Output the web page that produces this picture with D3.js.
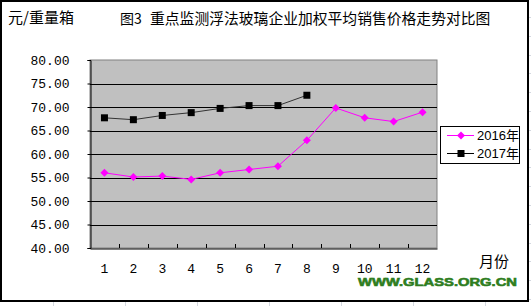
<!DOCTYPE html>
<html>
<head>
<meta charset="utf-8">
<script src="https://cdn.jsdelivr.net/npm/d3@7"></script>
<style>
  html, body { margin: 0; padding: 0; background: #fff; }
  svg { display: block; }
</style>
</head>
<body>
<div id="chart"></div>
<script>
// months on the x axis
const months = ["1", "2", "3", "4", "5", "6", "7", "8", "9", "10", "11", "12"];
// price series (元/重量箱)
const price2016 = [56.0, 55.1, 55.3, 54.6, 56.0, 56.7, 57.4, 62.9, 69.8, 67.7, 66.9, 68.9];
const price2017 = [67.7, 67.3, 68.2, 68.8, 69.7, 70.3, 70.3, 72.5];
const yTicks = [40, 45, 50, 55, 60, 65, 70, 75, 80];
const seriesNames = ["2016年", "2017年"];

const W = 531, H = 306;
const plot = { left: 90, top: 60, right: 437, bottom: 248 };

const svg = d3
  .select("#chart")
  .append("svg")
  .attr("width", W)
  .attr("height", H);

// faint spreadsheet grid showing outside the chart frame
const gridCols = [53, 125, 197, 269, 341, 413, 485];
svg.append("g")
  .selectAll("line")
  .data(gridCols)
  .join("line")
  .attr("x1", (d) => d + 0.5).attr("x2", (d) => d + 0.5)
  .attr("y1", 302).attr("y2", H)
  .attr("stroke", "#d4d8e0");
svg.append("g")
  .selectAll("line")
  .data(d3.range(17, H, 18.8))
  .join("line")
  .attr("x1", 529).attr("x2", W)
  .attr("y1", (d) => Math.round(d) + 0.5).attr("y2", (d) => Math.round(d) + 0.5)
  .attr("stroke", "#d4d8e0");

// chart frame
svg.append("rect")
  .attr("x", 1).attr("y", 1)
  .attr("width", 527).attr("height", 300)
  .attr("fill", "#fff")
  .attr("stroke", "#000")
  .attr("stroke-width", 2);

const x = d3.scaleBand()
  .domain(months)
  .range([plot.left, plot.right])
  .padding(0);

const y = d3.scaleLinear()
  .domain([40, 80])
  .range([plot.bottom, plot.top]);

const cx = (i) => x(months[i]) + x.bandwidth() / 2;

// plot background
svg.append("rect")
  .attr("x", plot.left).attr("y", plot.top)
  .attr("width", plot.right - plot.left)
  .attr("height", plot.bottom - plot.top)
  .attr("fill", "#c0c0c0")
  .attr("stroke", "#808080");

// horizontal gridlines
svg.append("g")
  .selectAll("line")
  .data(yTicks.filter((d) => d > 40 && d < 80))
  .join("line")
  .attr("x1", plot.left).attr("x2", plot.right)
  .attr("y1", (d) => Math.round(y(d)) + 0.5)
  .attr("y2", (d) => Math.round(y(d)) + 0.5)
  .attr("stroke", "#000");

// y axis
const yAxis = svg.append("g")
  .attr("transform", `translate(${plot.left + 0.5},0)`)
  .call(d3.axisLeft(y).tickValues(yTicks).tickSize(3).tickPadding(18)
    .tickFormat((d) => d.toFixed(2)));
yAxis.select(".domain").attr("stroke", "#000");
yAxis.selectAll("text")
  .attr("fill", "#000")
  .style("font-family", "'Liberation Mono', monospace")
  .style("font-size", "13px");

// x axis
const xAxis = svg.append("g")
  .attr("transform", `translate(0,${plot.bottom + 0.5})`)
  .call(d3.axisBottom(x).tickSize(0).tickPadding(15));
xAxis.select(".domain").attr("stroke", "#000");
xAxis.selectAll("text")
  .attr("fill", "#000")
  .style("font-family", "'Liberation Mono', monospace")
  .style("font-size", "13px");

// inward tick marks between months
svg.append("g")
  .selectAll("line")
  .data(months.slice(1))
  .join("line")
  .attr("x1", (d) => Math.round(x(d)) + 0.5)
  .attr("x2", (d) => Math.round(x(d)) + 0.5)
  .attr("y1", plot.bottom)
  .attr("y2", plot.bottom - 4)
  .attr("stroke", "#000");

// lines
const line = d3.line()
  .x((d, i) => cx(i))
  .y((d) => y(d));

svg.append("path")
  .attr("d", line(price2016))
  .attr("fill", "none")
  .attr("stroke", "#ff00ff")
  .attr("stroke-width", 1);

svg.append("path")
  .attr("d", line(price2017))
  .attr("fill", "none")
  .attr("stroke", "#333")
  .attr("stroke-width", 1);

const diamond = (px, py, r) =>
  `M${px},${py - r}L${px + r},${py}L${px},${py + r}L${px - r},${py}Z`;

svg.append("g")
  .selectAll("path")
  .data(price2016)
  .join("path")
  .attr("d", (d, i) => diamond(cx(i), y(d), 4))
  .attr("fill", "#ff00ff");

svg.append("g")
  .selectAll("rect")
  .data(price2017)
  .join("rect")
  .attr("x", (d, i) => cx(i) - 3.5)
  .attr("y", (d) => y(d) - 3.5)
  .attr("width", 7)
  .attr("height", 7)
  .attr("fill", "#000");

// legend
const legend = svg.append("g");
legend.append("rect")
  .attr("x", 440.5).attr("y", 126.5)
  .attr("width", 79).attr("height", 37)
  .attr("fill", "#fff")
  .attr("stroke", "#000");

const legendY = [135.5, 153.5];
seriesNames.forEach((name, k) => {
  const ly = legendY[k];
  const color = k === 0 ? "#ff00ff" : "#000";
  legend.append("line")
    .attr("x1", 447).attr("x2", 474)
    .attr("y1", ly).attr("y2", ly)
    .attr("stroke", color);
  if (k === 0) {
    legend.append("path").attr("d", diamond(461, ly, 4)).attr("fill", color);
  } else {
    legend.append("rect")
      .attr("x", 457.5).attr("y", ly - 3.5)
      .attr("width", 7).attr("height", 7)
      .attr("fill", color);
  }
  legend.append("text")
    .attr("x", 477).attr("y", ly)
    .attr("dy", "0.36em")
    .style("font-family", "'Liberation Sans', 'Noto Sans CJK SC', sans-serif")
    .style("font-size", "13px")
    .text(name);
});

// titles and axis captions
const cjk = "'Noto Sans CJK SC', sans-serif";
svg.append("text")
  .attr("x", 8).attr("y", 23)
  .style("font-family", cjk)
  .style("font-size", "15px")
  .text("元/重量箱");

svg.append("text")
  .attr("x", 120).attr("y", 24)
  .style("font-family", cjk)
  .style("font-size", "14px")
  .text("图3");

svg.append("text")
  .attr("x", 150).attr("y", 24)
  .style("font-family", cjk)
  .style("font-size", "14.8px")
  .text("重点监测浮法玻璃企业加权平均销售价格走势对比图");

svg.append("text")
  .attr("x", 479).attr("y", 267)
  .style("font-family", cjk)
  .style("font-size", "15px")
  .text("月份");

svg.append("text")
  .attr("x", 358).attr("y", 286)
  .attr("textLength", 159)
  .attr("lengthAdjust", "spacingAndGlyphs")
  .style("font-family", "'Liberation Sans', Arial, sans-serif")
  .style("font-weight", "bold")
  .style("font-size", "11.5px")
  .attr("fill", "#2e7d1e")
  .attr("stroke", "#2e7d1e")
  .attr("stroke-width", 0.6)
  .text("WWW.GLASS.ORG.CN");
</script>
</body>
</html>
